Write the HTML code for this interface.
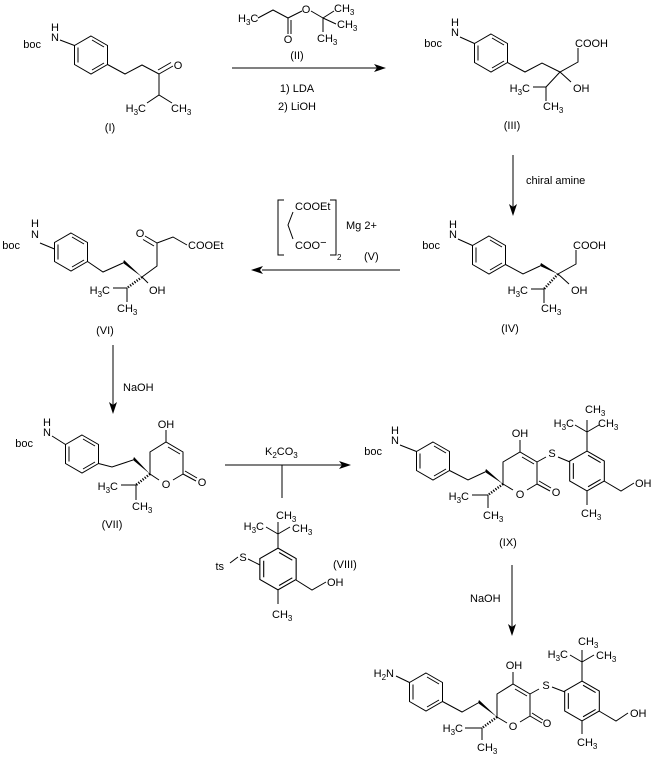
<!DOCTYPE html>
<html><head><meta charset="utf-8"><style>
html,body{margin:0;padding:0;background:#fff;}
svg{display:block;}
text{font-family:"Liberation Sans",sans-serif;font-size:11px;fill:#000;}
.s{font-size:8px;}
</style></head><body>
<svg width="657" height="760" viewBox="0 0 657 760" xmlns="http://www.w3.org/2000/svg">
<defs>
<g id="bz">
<polygon points="0,-19 16.5,-9.5 16.5,9.5 0,19 -16.5,9.5 -16.5,-9.5" fill="none" stroke="#000"/>
<line x1="-13" y1="-7.5" x2="-13" y2="7.5" stroke="#000"/>
<line x1="1" y1="-15" x2="13" y2="-8" stroke="#000"/>
<line x1="1" y1="15" x2="13" y2="8" stroke="#000"/>
</g>
</defs>
<g stroke="#000" fill="none" stroke-width="1">

<!-- I -->
<use href="#bz" x="91" y="55"/>
<line x1="60" y1="40" x2="74.5" y2="45.5"/>
<polyline points="107.5,64.5 125,74 142,65 159,74"/>
<line x1="159" y1="74" x2="173" y2="66"/><line x1="158" y1="70" x2="171" y2="62.5"/>
<polyline points="147,103 159,95 172,103"/><line x1="159" y1="74" x2="159" y2="95"/>

<!-- II -->
<polyline points="258,18 273,10 288,18 302,11"/>
<line x1="288" y1="18" x2="288" y2="34"/><line x1="291" y1="20" x2="291" y2="34"/>
<line x1="311" y1="11" x2="323" y2="18"/>
<line x1="323" y1="18" x2="334" y2="11"/><line x1="323" y1="18" x2="323" y2="32"/><line x1="323" y1="18" x2="336" y2="24"/>
<line x1="232" y1="68" x2="380" y2="68"/>

<!-- III -->
<use href="#bz" x="491" y="53"/>
<line x1="460" y1="37" x2="474.5" y2="43.5"/>
<polyline points="507.5,62.5 525,72 542,63 560,72 578,62 578,48"/>
<line x1="560" y1="72" x2="571" y2="82"/>
<polyline points="533,87 546,87 546,101"/><line x1="560" y1="72" x2="546" y2="87"/>

<!-- arrow chiral -->
<line x1="513" y1="155" x2="513" y2="208"/>

<!-- IV -->
<use href="#bz" x="489" y="255"/>
<line x1="458" y1="239" x2="472.5" y2="245.5"/>
<polyline points="505.5,264.5 523,274 540,266"/>
<polyline points="558,274 576,264 576,250"/>
<line x1="558" y1="274" x2="569" y2="284"/>
<polyline points="531,289 544,289 544,303"/>
<line x1="558" y1="274" x2="544" y2="289" stroke-width="2.5" stroke-dasharray="1.2,1.5"/>

<!-- reverse arrow -->
<line x1="262" y1="270" x2="400" y2="270"/>

<!-- V -->
<polyline points="284,200 278,200 278,255 284,255"/>
<polyline points="330,200 336,200 336,255 330,255"/>
<polyline points="293,212 288,225 293,239"/>

<!-- VI -->
<use href="#bz" x="71" y="252"/>
<line x1="40" y1="243" x2="54.5" y2="249"/>
<polyline points="87.5,261.5 103,272 123,263"/>
<polyline points="142,277 157,266 157,243 173,237 187,245"/>
<line x1="157" y1="243" x2="145" y2="236"/><line x1="154" y1="246" x2="143" y2="239.5"/>
<line x1="142" y1="277" x2="148" y2="283"/>
<polyline points="113,288 127,288 127,302"/>
<line x1="142" y1="277" x2="127" y2="288" stroke-width="2.5" stroke-dasharray="1.2,1.5"/>

<!-- NaOH arrow 1 -->
<line x1="113" y1="345" x2="113" y2="406"/>

<!-- VII -->
<use href="#bz" x="82" y="454"/>
<line x1="52" y1="436" x2="65.5" y2="444.5"/>
<polyline points="98.5,463.5 112,467 133,460"/>
<polyline points="150,474 150,452 166,442 183,452 183,474 173,480"/>
<line x1="150" y1="474" x2="159" y2="480"/>
<line x1="168" y1="447" x2="180" y2="454"/>
<line x1="166" y1="442" x2="166" y2="430"/>
<line x1="183" y1="474" x2="196" y2="481"/><line x1="185" y1="471" x2="197" y2="478"/>
<polyline points="121,485 136,485 136,500"/>
<line x1="150" y1="474" x2="136" y2="485" stroke-width="2.5" stroke-dasharray="1.2,1.5"/>

<!-- K2CO3 arrow -->
<line x1="225" y1="465" x2="343" y2="465"/>
<line x1="282" y1="465" x2="282" y2="498"/>

<!-- VIII -->
<g transform="translate(278,569) scale(1.1)"><use href="#bz"/></g>
<line x1="230" y1="563" x2="238" y2="557"/><line x1="248" y1="559" x2="260" y2="565"/>
<line x1="278" y1="548" x2="278" y2="534"/>
<line x1="278" y1="534" x2="266" y2="527"/><line x1="278" y1="534" x2="290" y2="527"/><line x1="278" y1="534" x2="278" y2="522"/>
<polyline points="296,580 312,590 326,582"/>
<line x1="278" y1="590" x2="278" y2="604"/>

<!-- IX -->
<use href="#bz" x="433" y="461"/>
<line x1="400" y1="445" x2="416.5" y2="451.5"/>
<polyline points="449.5,470.5 468,480 485,472"/>
<polyline points="503,484 503,462 520,452 537,462 537,484 527,490"/>
<line x1="503" y1="484" x2="513" y2="490"/>
<line x1="522" y1="457" x2="534" y2="464"/>
<line x1="520" y1="452" x2="520" y2="440"/>
<line x1="537" y1="462" x2="546" y2="457"/>
<line x1="537" y1="484" x2="550" y2="491"/><line x1="539" y1="481" x2="551" y2="488"/>
<line x1="558" y1="457" x2="570" y2="462"/>
<g transform="translate(587,471) scale(1.05)"><use href="#bz"/></g>
<line x1="587" y1="451" x2="587" y2="432"/>
<line x1="587" y1="432" x2="575" y2="425"/><line x1="587" y1="432" x2="599" y2="425"/><line x1="587" y1="432" x2="587" y2="420"/>
<polyline points="604,481 621,491 634,483"/>
<line x1="587" y1="491" x2="587" y2="505"/>
<polyline points="472,495 488,495 488,508"/>
<line x1="503" y1="484" x2="488" y2="495" stroke-width="2.5" stroke-dasharray="1.2,1.5"/>

<!-- NaOH arrow 2 -->
<line x1="512" y1="565" x2="512" y2="628"/>

<!-- X -->
<use href="#bz" x="426" y="692"/>
<line x1="396" y1="676" x2="409.5" y2="682.5"/>
<polyline points="442.5,701.5 462,712 478,703"/>
<polyline points="497,717 497,694 513,684 530,694 530,716 520,722"/>
<line x1="497" y1="717" x2="507" y2="723"/>
<line x1="515" y1="689" x2="527" y2="696"/>
<line x1="513" y1="684" x2="513" y2="672"/>
<line x1="530" y1="694" x2="539" y2="689"/>
<line x1="530" y1="716" x2="542" y2="723"/><line x1="532" y1="713" x2="543" y2="720"/>
<line x1="552" y1="687" x2="565" y2="692"/>
<g transform="translate(582,701) scale(1.05)"><use href="#bz"/></g>
<line x1="582" y1="681" x2="582" y2="662"/>
<line x1="582" y1="662" x2="570" y2="655"/><line x1="582" y1="662" x2="594" y2="655"/><line x1="582" y1="662" x2="582" y2="650"/>
<polyline points="599,711 616,721 628,713"/>
<line x1="582" y1="721" x2="582" y2="734"/>
<polyline points="465,728 482,728 482,740"/>
<line x1="497" y1="717" x2="482" y2="728" stroke-width="2.5" stroke-dasharray="1.2,1.5"/>
</g>

<!-- wedges & arrowheads -->
<g fill="#000">
<polygon points="540,266 558,274 541,263"/>
<polygon points="123,263 142,277 124,260"/>
<polygon points="133,460 150,474 134,457"/>
<polygon points="485,472 503,484 486,469"/>
<polygon points="478,703 497,717 479,700"/>
<polygon points="386,68 374,64 377,68 374,72"/>
<polygon points="513,216 509,204 513,207 517,204"/>
<polygon points="251,270 263,266 260,270 263,274"/>
<polygon points="113,414 109,402 113,405 117,402"/>
<polygon points="351,465 339,461 342,465 339,469"/>
<polygon points="512,636 508,624 512,627 516,624"/>
</g>

<!-- text -->
<text x="55" y="31" text-anchor="middle">H</text>
<text x="55" y="41" text-anchor="middle">N</text>
<text x="41" y="48" text-anchor="end">boc</text>
<text x="178" y="69" text-anchor="middle">O</text>
<text x="146" y="112" text-anchor="end">H<tspan class="s" dy="3">3</tspan><tspan dy="-3">C</tspan></text>
<text x="171" y="112">CH<tspan class="s" dy="3">3</tspan></text>
<text x="110" y="131" text-anchor="middle">(I)</text>

<text x="238" y="22">H<tspan class="s" dy="3">3</tspan><tspan dy="-3">C</tspan></text>
<text x="306" y="13" text-anchor="middle">O</text>
<text x="288" y="43" text-anchor="middle">O</text>
<text x="334" y="12">CH<tspan class="s" dy="3">3</tspan></text>
<text x="337" y="28">CH<tspan class="s" dy="3">3</tspan></text>
<text x="317" y="42">CH<tspan class="s" dy="3">3</tspan></text>
<text x="297" y="59" text-anchor="middle">(II)</text>
<text x="297" y="92" text-anchor="middle">1) LDA</text>
<text x="297" y="110" text-anchor="middle">2) LiOH</text>

<text x="455" y="26" text-anchor="middle">H</text>
<text x="455" y="36" text-anchor="middle">N</text>
<text x="442" y="47" text-anchor="end">boc</text>
<text x="575" y="47">COOH</text>
<text x="573" y="92">OH</text>
<text x="530" y="92" text-anchor="end">H<tspan class="s" dy="3">3</tspan><tspan dy="-3">C</tspan></text>
<text x="543" y="110">CH<tspan class="s" dy="3">3</tspan></text>
<text x="512" y="129" text-anchor="middle">(III)</text>
<text x="526" y="184">chiral amine</text>

<text x="453" y="228" text-anchor="middle">H</text>
<text x="453" y="238" text-anchor="middle">N</text>
<text x="440" y="249" text-anchor="end">boc</text>
<text x="573" y="249">COOH</text>
<text x="571" y="294">OH</text>
<text x="528" y="294" text-anchor="end">H<tspan class="s" dy="3">3</tspan><tspan dy="-3">C</tspan></text>
<text x="541" y="312">CH<tspan class="s" dy="3">3</tspan></text>
<text x="510" y="332" text-anchor="middle">(IV)</text>

<text x="295" y="210">COOEt</text>
<text x="295" y="249">COO<tspan dy="-3">−</tspan></text>
<text x="337" y="260" class="s">2</text>
<text x="346" y="229">Mg 2+</text>
<text x="364" y="260">(V)</text>

<text x="35" y="227" text-anchor="middle">H</text>
<text x="35" y="238" text-anchor="middle">N</text>
<text x="20" y="249" text-anchor="end">boc</text>
<text x="140" y="237" text-anchor="middle">O</text>
<text x="188" y="249">COOEt</text>
<text x="149" y="294">OH</text>
<text x="110" y="294" text-anchor="end">H<tspan class="s" dy="3">3</tspan><tspan dy="-3">C</tspan></text>
<text x="117" y="312">CH<tspan class="s" dy="3">3</tspan></text>
<text x="105" y="334" text-anchor="middle">(VI)</text>

<text x="123" y="391">NaOH</text>

<text x="47" y="426" text-anchor="middle">H</text>
<text x="47" y="436" text-anchor="middle">N</text>
<text x="33" y="447" text-anchor="end">boc</text>
<text x="166" y="428" text-anchor="middle">OH</text>
<text x="166" y="488" text-anchor="middle">O</text>
<text x="202" y="486" text-anchor="middle">O</text>
<text x="118" y="490" text-anchor="end">H<tspan class="s" dy="3">3</tspan><tspan dy="-3">C</tspan></text>
<text x="132" y="510">CH<tspan class="s" dy="3">3</tspan></text>
<text x="112" y="528" text-anchor="middle">(VII)</text>

<text x="265" y="455">K<tspan class="s" dy="3">2</tspan><tspan dy="-3">CO</tspan><tspan class="s" dy="3">3</tspan></text>

<text x="276" y="519">CH<tspan class="s" dy="3">3</tspan></text>
<text x="264" y="530" text-anchor="end">H<tspan class="s" dy="3">3</tspan><tspan dy="-3">C</tspan></text>
<text x="292" y="532">CH<tspan class="s" dy="3">3</tspan></text>
<text x="243" y="561" text-anchor="middle">S</text>
<text x="224" y="570" text-anchor="end">ts</text>
<text x="333" y="568">(VIII)</text>
<text x="327" y="586">OH</text>
<text x="272" y="618">CH<tspan class="s" dy="3">3</tspan></text>

<text x="395" y="434" text-anchor="middle">H</text>
<text x="395" y="444" text-anchor="middle">N</text>
<text x="382" y="455" text-anchor="end">boc</text>
<text x="520" y="437" text-anchor="middle">OH</text>
<text x="552" y="457" text-anchor="middle">S</text>
<text x="520" y="498" text-anchor="middle">O</text>
<text x="556" y="496" text-anchor="middle">O</text>
<text x="585" y="413">CH<tspan class="s" dy="3">3</tspan></text>
<text x="574" y="427" text-anchor="end">H<tspan class="s" dy="3">3</tspan><tspan dy="-3">C</tspan></text>
<text x="598" y="427">CH<tspan class="s" dy="3">3</tspan></text>
<text x="635" y="487">OH</text>
<text x="581" y="517">CH<tspan class="s" dy="3">3</tspan></text>
<text x="469" y="500" text-anchor="end">H<tspan class="s" dy="3">3</tspan><tspan dy="-3">C</tspan></text>
<text x="483" y="519">CH<tspan class="s" dy="3">3</tspan></text>
<text x="508" y="546" text-anchor="middle">(IX)</text>

<text x="470" y="602">NaOH</text>

<text x="394" y="677" text-anchor="end">H<tspan class="s" dy="3">2</tspan><tspan dy="-3">N</tspan></text>
<text x="514" y="669" text-anchor="middle">OH</text>
<text x="546" y="689" text-anchor="middle">S</text>
<text x="513" y="730" text-anchor="middle">O</text>
<text x="547" y="727" text-anchor="middle">O</text>
<text x="578" y="645">CH<tspan class="s" dy="3">3</tspan></text>
<text x="568" y="658" text-anchor="end">H<tspan class="s" dy="3">3</tspan><tspan dy="-3">C</tspan></text>
<text x="596" y="659">CH<tspan class="s" dy="3">3</tspan></text>
<text x="630" y="717">OH</text>
<text x="577" y="746">CH<tspan class="s" dy="3">3</tspan></text>
<text x="463" y="732" text-anchor="end">H<tspan class="s" dy="3">3</tspan><tspan dy="-3">C</tspan></text>
<text x="477" y="751">CH<tspan class="s" dy="3">3</tspan></text>
</svg>
</body></html>
